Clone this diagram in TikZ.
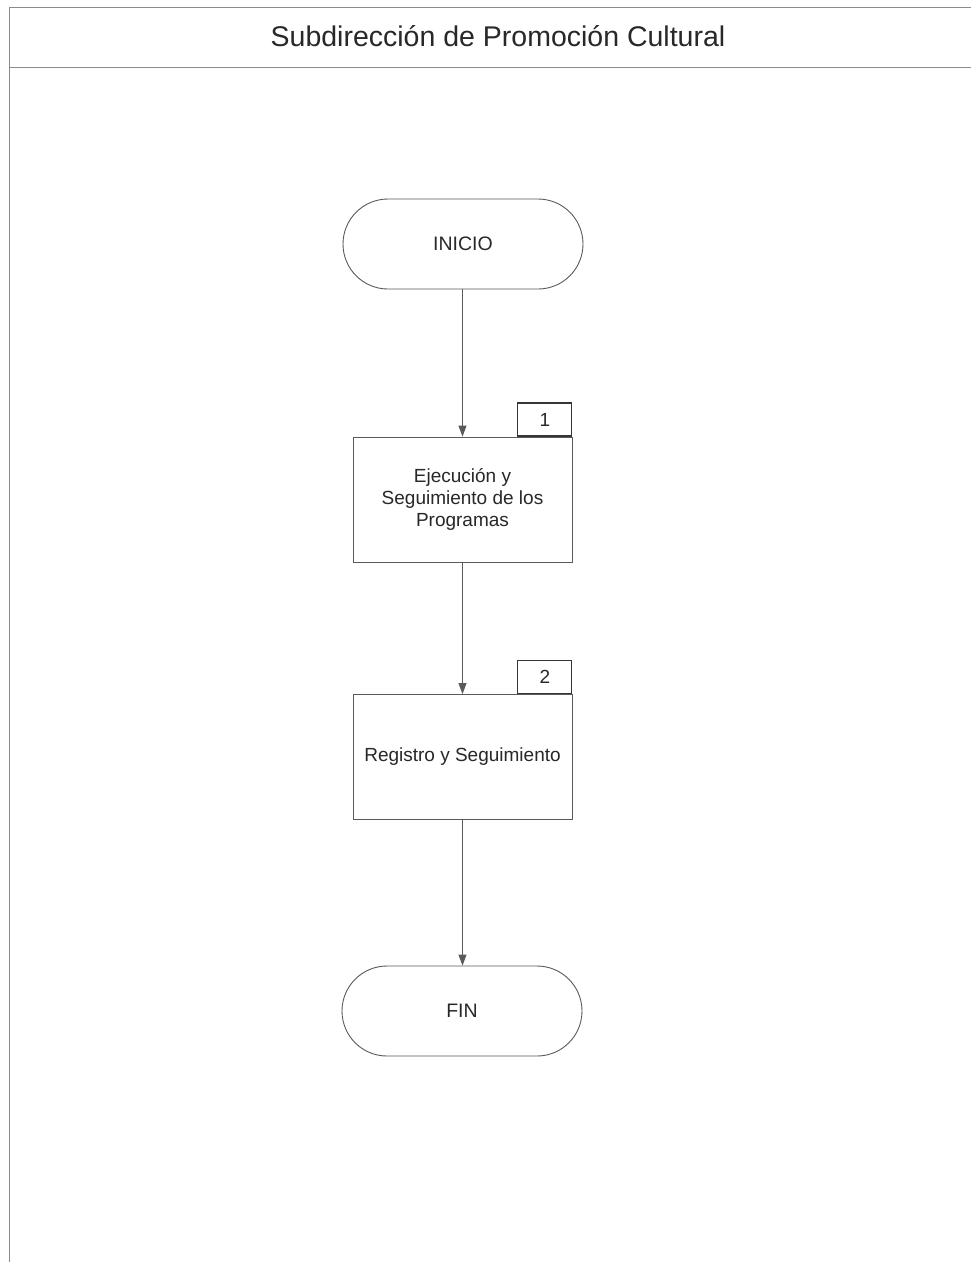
\documentclass[tikz,border=0pt]{standalone}
\usepackage{fontspec}
\setmainfont{Liberation Sans}
\usetikzlibrary{arrows.meta}
\definecolor{linec}{RGB}{90,90,90}
\definecolor{textc}{RGB}{40,40,40}
\begin{document}
\begin{tikzpicture}[x=1pt,y=-1pt,
  term/.style={draw=linec, line width=0.9pt, rounded corners=45pt, minimum width=240pt, minimum height=90pt, text=textc, font=\fontsize{19.5}{22}\selectfont, inner sep=0pt},
  procbox/.style={draw=linec, line width=0.9pt, minimum width=219pt, minimum height=125pt, text=textc, font=\fontsize{19}{22}\selectfont, align=center, inner sep=0pt},
  numbox/.style={draw=linec!60!black, line width=1.1pt, minimum width=54pt, minimum height=33pt, text=textc, font=\fontsize{19}{22}\selectfont, inner sep=0pt},
  flow/.style={draw=linec, line width=0.9pt, -{Triangle[length=11pt,width=8pt]}},
  frame/.style={draw=linec!70, line width=1pt}
]
\useasboundingbox (0,0) rectangle (971,1262);
\fill[white] (0,0) rectangle (971,1262);
% frame
\coordinate (tl) at (9,7);
\coordinate (tr) at (971,7);
\coordinate (bl) at (9,1262);
\coordinate (hl) at (9,67);
\coordinate (hr) at (971,67);
\draw[frame] (tr) -- (tl) -- (bl);
\draw[frame] (hl) -- (hr);
\node[text=textc, font=\fontsize{28.5}{32}\selectfont] (title) at (498,36) {Subdirección de Promoción Cultural};
% nodes
\node[term] (inicio) at (463,244) {INICIO};
\node[procbox] (p1) at (462.5,499.5) {Ejecución y\\Seguimiento de los\\Programas};
\node[numbox, anchor=south east] (n1) at (p1.north east) {1};
\node[procbox] (p2) at (462.5,757) {Registro y Seguimiento};
\node[numbox, anchor=south east] (n2) at (p2.north east) {2};
\node[term] (fin) at (462,1011) {FIN};
% connectors
\draw[flow] (inicio.south -| p1.north) -- (p1.north);
\draw[flow] (p1.south) -- (p2.north);
\draw[flow] (p2.south) -- (p2.south |- fin.north);
\end{tikzpicture}
\end{document}
